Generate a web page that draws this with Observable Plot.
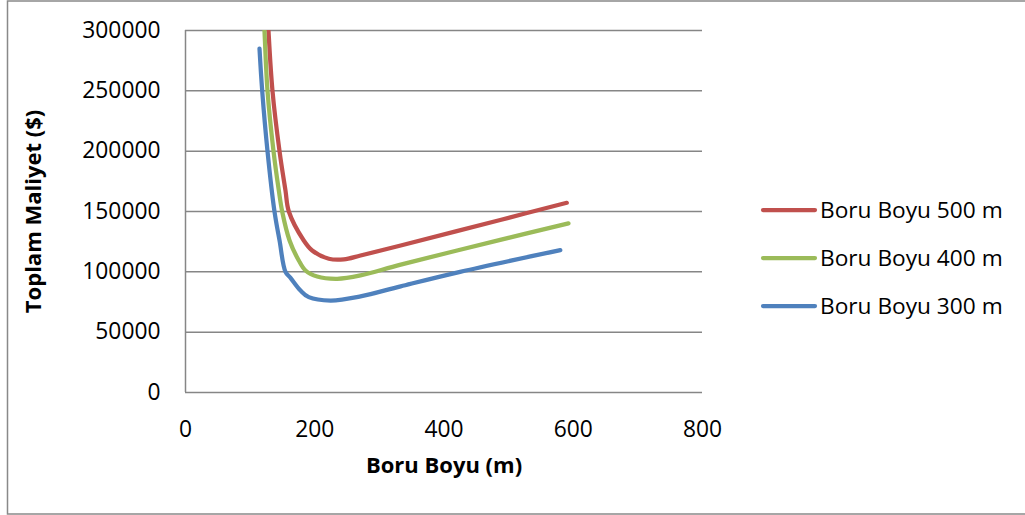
<!DOCTYPE html>
<html><head><meta charset="utf-8">
<script src="https://cdn.jsdelivr.net/npm/d3@7"></script>
<script src="https://cdn.jsdelivr.net/npm/@observablehq/plot@0.6"></script>
<style>
html,body{margin:0;padding:0;background:#fff;}
#chart{width:1025px;height:515px;position:relative;}
</style></head><body><div id="chart"></div>
<script>
const seriesNames = ["Boru Boyu 500 m", "Boru Boyu 400 m", "Boru Boyu 300 m"];
const seriesColors = ["#C0504D", "#9BBB59", "#4F81BD"];

const redX = [125, 128.4, 134.6, 145.5, 154.7, 159.9, 183, 196, 221.8, 245, 270.8, 333, 487, 590];
const redY = [340000, 300000, 250000, 200000, 167400, 150000, 126000, 117700, 110800, 110300, 113500, 121800, 143000, 157200];

const greenX = [119, 122.2, 126.9, 136.2, 144.4, 149.6, 161, 175.3, 185.7, 203.8, 234.7, 270.8, 333, 487, 592.6];
const greenY = [340000, 300000, 250000, 200000, 167400, 150000, 126000, 109400, 101100, 96100, 94200, 97000, 106000, 126500, 140200];

const blueX = [114.5, 118.7, 126.9, 137.7, 145.5, 154.7, 162.5, 178, 190.8, 224.4, 270.8, 333, 425, 580];
const blueY = [285000, 250000, 200000, 150000, 126000, 100000, 95000, 84500, 79000, 76200, 79600, 88000, 100000, 118000];

const yTicks = [0, 50000, 100000, 150000, 200000, 250000, 300000];
const xTicks = [0, 200, 400, 600, 800];
const xTitle = "Boru Boyu (m)";
const yTitle = "Toplam Maliyet ($)";

const seriesX = [redX, greenX, blueX];
const seriesY = [redY, greenY, blueY];
const rows = [];
seriesNames.forEach((s, i) => {
  seriesX[i].forEach((x, j) => rows.push({s, x, y: seriesY[i][j]}));
});

const font = "'Open Sans', sans-serif";
const plot = Plot.plot({
  width: 1025, height: 515,
  marginLeft: 185, marginRight: 323, marginTop: 30, marginBottom: 123,
  style: {fontFamily: font, fontSize: "22px", color: "#000", background: "#fff", overflow: "visible"},
  x: {domain: [0, 800]},
  y: {domain: [0, 300000]},
  color: {domain: seriesNames, range: seriesColors},
  marks: [
    Plot.gridY(yTicks, {stroke: "#868686", strokeOpacity: 1, strokeWidth: 1.5}),
    Plot.ruleX([0], {stroke: "#868686", strokeWidth: 1.5}),
    Plot.axisY(yTicks, {tickSize: 0, tickPadding: 25, tickFormat: d => String(d), label: null, fontSize: 22.8, fill: "#000"}),
    Plot.axisX(xTicks, {tickSize: 0, tickPadding: 28, tickFormat: d => String(d), label: null, fontSize: 22.8, fill: "#000"}),
    Plot.line(rows, {x: "x", y: "y", z: "s", stroke: "s", strokeWidth: 4.25, curve: "catmull-rom", clip: true, strokeLinecap: "round", strokeLinejoin: "round"}),
    Plot.text([xTitle], {text: d => d, frameAnchor: "bottom", dy: 80, fontWeight: "bold", fontSize: 22, fill: "#000"}),
    Plot.text([yTitle], {text: d => d, frameAnchor: "left", textAnchor: "middle", dx: -152, rotate: -90, fontWeight: "bold", fontSize: 22, fill: "#000"})
  ]
});
document.getElementById("chart").appendChild(plot);

// outer chart border
const svg = d3.select(plot);
svg.append("rect").attr("x", 7.5).attr("y", 1).attr("width", 1030).attr("height", 513)
  .attr("fill", "none").attr("stroke", "#898989").attr("stroke-width", 1.5);

// legend
const legendY = [210, 258, 306];
const lg = svg.append("g").attr("font-family", font).attr("font-size", 22.7).attr("text-anchor", "start");
seriesNames.forEach((s, i) => {
  lg.append("line").attr("x1", 763).attr("x2", 815).attr("y1", legendY[i]).attr("y2", legendY[i])
    .attr("stroke", seriesColors[i]).attr("stroke-width", 4.25).attr("stroke-linecap", "round");
  lg.append("text").attr("x", 820).attr("y", legendY[i]).attr("dy", "0.36em").attr("text-anchor", "start").attr("fill", "#000").text(s);
});
</script>
</body></html>
